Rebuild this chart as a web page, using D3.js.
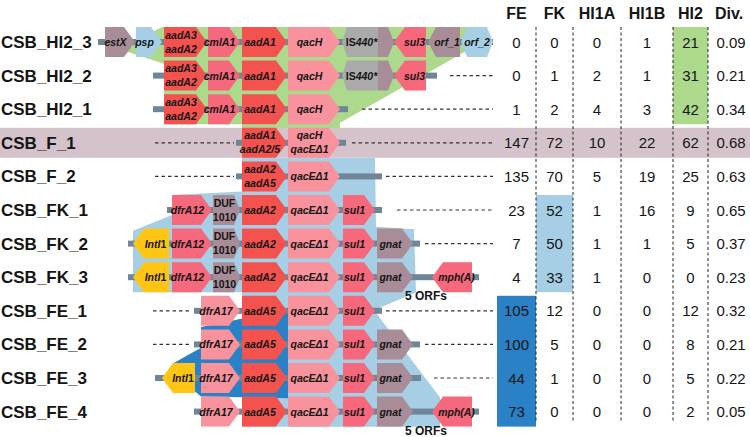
<!DOCTYPE html>
<html>
<head>
<meta charset="utf-8">
<script src="https://cdn.jsdelivr.net/npm/d3@7"></script>
<style>
  body { margin: 0; background: #fff; }
  text { font-family: "Liberation Sans", Arial, Helvetica, sans-serif; fill: #151515; }
</style>
</head>
<body>
<script>
// cassette structures (CSB) and counts per source
const rowNames = ["CSB_HI2_3", "CSB_HI2_2", "CSB_HI2_1", "CSB_F_1", "CSB_F_2", "CSB_FK_1",
    "CSB_FK_2", "CSB_FK_3", "CSB_FE_1", "CSB_FE_2", "CSB_FE_3", "CSB_FE_4"];

const colNames = ["FE", "FK", "HI1A", "HI1B", "HI2", "Div."];
const countFE = [0, 0, 1, 147, 135, 23, 7, 4, 105, 100, 44, 73];
const countFK = [0, 1, 2, 72, 70, 52, 50, 33, 12, 5, 1, 0];
const countHI1A = [0, 2, 4, 10, 5, 1, 1, 1, 0, 0, 0, 0];
const countHI1B = [1, 1, 3, 22, 19, 16, 1, 0, 0, 0, 0, 0];
const countHI2 = [21, 31, 42, 62, 25, 9, 5, 0, 12, 8, 5, 2];
const diversity = ["0.09", "0.21", "0.34", "0.68", "0.63", "0.65", "0.37", "0.23", "0.32", "0.21", "0.22", "0.05"];

// gene content of each row (left to right)
const rowGenes = [
    ["estX", "psp", "aadA3_2", "cmlA1", "aadA1", "qacH", "IS440", "ISpart", "sul3", "orf_1", "orf_2"],
    ["aadA3_2", "cmlA1", "aadA1", "qacH", "IS440", "ISpart", "sul3"],
    ["aadA3_2", "cmlA1", "aadA1", "qacH"],
    ["aadA1_25", "qacH_E"],
    ["aadA2_5", "qacE"],
    ["dfrA12", "DUF1010", "aadA2", "qacE", "sul1"],
    ["intI1_K", "dfrA12", "DUF1010", "aadA2", "qacE", "sul1", "gnat"],
    ["intI1_K", "dfrA12", "DUF1010", "aadA2", "qacE", "sul1", "gnat", "mphA"],
    ["dfrA17", "aadA5", "qacE", "sul1"],
    ["dfrA17", "aadA5", "qacE", "sul1", "gnat"],
    ["intI1_E", "dfrA17", "aadA5", "qacE", "sul1", "gnat"],
    ["dfrA17", "aadA5", "qacE", "sul1", "gnat", "mphA"]
];

// gene catalogue: label lines (segments [text, italic]), alignment extent, strand, family
const genes = {
    estX: {lines: [[["estX", 1]]], from: 105, to: 135, strand: 1, fam: "mauve"},
    psp: {lines: [[["psp", 1]]], from: 136, to: 162, strand: 1, fam: "sky"},
    aadA3_2: {lines: [[["aadA3", 1]], [["aadA2", 1]]], from: 164, to: 207, strand: 1, fam: "red"},
    cmlA1: {lines: [[["cmlA1", 1]]], from: 208, to: 240, strand: 1, fam: "rose"},
    aadA1: {lines: [[["aadA1", 1]]], from: 242, to: 287, strand: 1, fam: "red"},
    qacH: {lines: [[["qacH", 1]]], from: 288, to: 340, strand: 1, fam: "pink"},
    IS440: {lines: [[["IS", 0], ["440*", 1]]], from: 342, to: 378, strand: -1, fam: "grey", tip: 5},
    ISpart: {lines: [], from: 378, to: 394, strand: 1, fam: "mauve", tip: 6},
    sul3: {lines: [[["sul3", 1]]], from: 394, to: 426, strand: -1, fam: "rose"},
    orf_1: {lines: [[["orf_1", 1]]], from: 428, to: 460, strand: -1, fam: "mauve", tip: 8},
    orf_2: {lines: [[["orf_2", 1]]], from: 461, to: 493, strand: 2, fam: "sky", tip: 6},
    aadA1_25: {lines: [[["aadA1", 1]], [["aadA2/5", 1]]], from: 242, to: 287, strand: 1, fam: "red"},
    qacH_E: {lines: [[["qacH", 1]], [["qacEΔ1", 1]]], from: 288, to: 340, strand: 1, fam: "pink"},
    aadA2_5: {lines: [[["aadA2", 1]], [["aadA5", 1]]], from: 242, to: 287, strand: 1, fam: "red"},
    qacE: {lines: [[["qacEΔ1", 1]]], from: 288, to: 340, strand: 1, fam: "pink"},
    sul1: {lines: [[["sul1", 1]]], from: 343, to: 375, strand: 1, fam: "rose"},
    dfrA12: {lines: [[["dfrA12", 1]]], from: 172, to: 212, strand: 1, fam: "rose"},
    DUF1010: {lines: [[["DUF", 0]], [["1010", 0]]], from: 213, to: 240, strand: 1, fam: "mauve", tip: 6},
    aadA2: {lines: [[["aadA2", 1]]], from: 242, to: 287, strand: 1, fam: "red"},
    gnat: {lines: [[["gnat", 1]]], from: 377, to: 413, strand: 1, fam: "mauve"},
    mphA: {lines: [[["mph(A)", 1]]], from: 432, to: 472, strand: -1, fam: "rose"},
    dfrA17: {lines: [[["dfrA17", 1]]], from: 201, to: 240, strand: 1, fam: "pink"},
    aadA5: {lines: [[["aadA5", 1]]], from: 242, to: 287, strand: 1, fam: "red"},
    intI1_K: {lines: [[["IntI", 1], ["1", 0]]], from: 133, to: 169, strand: -1, fam: "yellow"},
    intI1_E: {lines: [[["IntI", 1], ["1", 0]]], from: 162, to: 195, strand: -1, fam: "yellow"}
};

// backbone extent, dotted continuation left / right
const backbone = [[98, 493], [153, 437], [153, 348], [236, 346], [236, 382], [167, 382],
    [128, 420], [128, 479], [194, 382], [194, 420], [155, 421], [194, 479]];
const leftDash = [null, null, null, [155, 234], [155, 234], null, null, null, [153, 190], [153, 190], null, null];
const rightDash = [null, [450, 493], [362, 493], [352, 493], [386, 493], [397, 493], [425, 493], null,
    [386, 493], [425, 493], [434, 493], null];
const orfNotes = [{row: 7, text: "5 ORFs"}, {row: 11, text: "5 ORFs"}];

// shared regions, [alignment x, row index]
const greenRegion = [[128, 0.30], [164, 0.65], [164, 2.45], [242, 2.45], [242, 3], [340, 3], [340, 2.4],
    [468, 0.24], [468, -0.45], [162, -0.45], [128, 0.09]];
const skyRegion = [[242, 3.45], [375, 3.45], [376, 5.5], [414, 5.57], [416, 7.45], [374, 7.98],
    [440, 10.58], [440, 11.45], [242, 11.45], [242, 7.45], [133, 7.45], [133, 5.62], [172, 5.15],
    [172, 4.55], [242, 4.45]];
const blueRegion = [[201, 8.48], [288, 7.95], [288, 10.6], [201, 10.55], [195, 10.4], [172, 9.58], [201, 9.1]];

const highlights = [{col: "FE", rows: [8, 11], fam: "blue"}, {col: "FK", rows: [5, 7], fam: "sky"},
    {col: "HI2", rows: [0, 2], fam: "green"}];

const width = 750, height = 437, half = 15;

const colors = d3.scaleOrdinal()
    .domain(["red", "rose", "pink", "mauve", "grey", "sky", "yellow", "green", "blue", "band"])
    .range(["#f4524f", "#f6687b", "#f8929d", "#a88c97", "#aaaaaa", "#a6cee4", "#fec514", "#acd98c", "#2b81c5", "#d4c3ca"]);

const x = d3.scaleLinear().domain([0, width]).range([0, width]);
const y = d3.scaleLinear().domain([0, rowNames.length - 1]).range([42, 411.6]);

const colLeft = d3.scaleOrdinal().domain(colNames).range([497, 536, 573, 621, 673, 708]);
const colRight = d3.scaleOrdinal().domain(colNames).range([536, 573, 621, 673, 708, 750]);
const colMid = function (c) { return (colLeft(c) + colRight(c)) / 2; };

const svg = d3.select("body").append("svg")
    .attr("width", width)
    .attr("height", height);

const poly = d3.line().x(function (d) { return x(d[0]); }).y(function (d) { return y(d[1]); });

// shared region backgrounds
svg.append("path").attr("d", poly(greenRegion) + "Z").attr("fill", colors("green"));
svg.append("path").attr("d", poly(skyRegion) + "Z").attr("fill", colors("sky"));
svg.append("path").attr("d", poly(blueRegion) + "Z").attr("fill", colors("blue"));

// highlighted F_1 row
svg.append("rect")
    .attr("x", 0).attr("width", width)
    .attr("y", y(3) - half).attr("height", half * 2)
    .attr("fill", colors("band"));

// table cell highlights
svg.selectAll("rect.hl")
    .data(highlights)
    .enter().append("rect")
    .attr("class", "hl")
    .attr("x", function (d) { return colLeft(d.col); })
    .attr("width", function (d) { return colRight(d.col) - colLeft(d.col); })
    .attr("y", function (d) { return y(d.rows[0]) - half; })
    .attr("height", function (d) { return y(d.rows[1]) - y(d.rows[0]) + half * 2; })
    .attr("fill", function (d) { return colors(d.fam); });

// table column separators
svg.selectAll("line.sep")
    .data(colNames.slice(1))
    .enter().append("line")
    .attr("class", "sep")
    .attr("x1", function (d) { return colLeft(d); })
    .attr("x2", function (d) { return colLeft(d); })
    .attr("y1", y(0) - half).attr("y2", y(11) + 10)
    .attr("stroke", "#222").attr("stroke-width", 1)
    .attr("stroke-dasharray", "3,2.5");

// dotted continuations
const dashes = [];
leftDash.forEach(function (d, i) { if (d) dashes.push({row: i, ext: d}); });
rightDash.forEach(function (d, i) { if (d) dashes.push({row: i, ext: d}); });
svg.selectAll("line.dash")
    .data(dashes)
    .enter().append("line")
    .attr("class", "dash")
    .attr("x1", function (d) { return x(d.ext[0]); })
    .attr("x2", function (d) { return x(d.ext[1]); })
    .attr("y1", function (d) { return y(d.row); })
    .attr("y2", function (d) { return y(d.row); })
    .attr("stroke", "#333").attr("stroke-width", 1.2)
    .attr("stroke-dasharray", "3.5,3");

// backbones
svg.selectAll("rect.bb")
    .data(backbone)
    .enter().append("rect")
    .attr("class", "bb")
    .attr("x", function (d) { return x(d[0]); })
    .attr("width", function (d) { return x(d[1]) - x(d[0]); })
    .attr("y", function (d, i) { return y(i) - 3; })
    .attr("height", 6)
    .attr("fill", "#6f8598");

// genes
function arrow(g, yc) {
    const x0 = x(g.from), x1 = x(g.to), t = g.tip || 11;
    let p;
    if (g.strand === 1) {
        p = [[x0, yc - half], [x1 - t, yc - half], [x1, yc], [x1 - t, yc + half], [x0, yc + half]];
    } else if (g.strand === -1) {
        p = [[x0 + t, yc - half], [x1, yc - half], [x1, yc + half], [x0 + t, yc + half], [x0, yc]];
    } else {
        p = [[x0 + t, yc - half], [x1 - t, yc - half], [x1, yc], [x1 - t, yc + half], [x0 + t, yc + half], [x0, yc]];
    }
    return p.map(function (q) { return q.join(","); }).join(" ");
}

const placed = [];
rowGenes.forEach(function (list, i) {
    list.forEach(function (k) { placed.push({row: i, g: genes[k]}); });
});

svg.selectAll("polygon.gene")
    .data(placed)
    .enter().append("polygon")
    .attr("class", "gene")
    .attr("points", function (d) { return arrow(d.g, y(d.row)); })
    .attr("fill", function (d) { return colors(d.g.fam); });

placed.forEach(function (d) {
    const g = d.g, t = g.tip || 11;
    const cx = g.strand === 1 ? (x(g.from) + x(g.to) - t) / 2 + 1
        : g.strand === -1 ? (x(g.from) + t + x(g.to)) / 2 - 1
        : (x(g.from) + x(g.to)) / 2;
    const n = g.lines.length;
    g.lines.forEach(function (segs, j) {
        const txt = svg.append("text")
            .attr("x", cx)
            .attr("y", y(d.row) + (n === 1 ? 4 : (j === 0 ? -3.5 : 10.5)))
            .attr("text-anchor", "middle")
            .style("font-size", "10.5px")
            .style("font-weight", "bold");
        segs.forEach(function (s) {
            txt.append("tspan").text(s[0]).style("font-style", s[1] ? "italic" : "normal");
        });
    });
});

svg.selectAll("text.orf")
    .data(orfNotes)
    .enter().append("text")
    .attr("class", "orf")
    .attr("x", x(426))
    .attr("y", function (d) { return y(d.row) + 23; })
    .attr("text-anchor", "middle")
    .style("font-size", "12px")
    .style("font-weight", "bold")
    .text(function (d) { return d.text; });

// row labels
svg.selectAll("text.rowlab")
    .data(rowNames)
    .enter().append("text")
    .attr("class", "rowlab")
    .attr("x", 1)
    .attr("y", function (d, i) { return y(i) + 6; })
    .style("font-size", "17px")
    .style("font-weight", "bold")
    .text(function (d) { return d; });

// table header and values
svg.selectAll("text.head")
    .data(colNames)
    .enter().append("text")
    .attr("class", "head")
    .attr("x", function (d) { return colMid(d); })
    .attr("y", 19)
    .attr("text-anchor", "middle")
    .style("font-size", "16px")
    .style("font-weight", "bold")
    .text(function (d) { return d; });

const columns = [countFE, countFK, countHI1A, countHI1B, countHI2, diversity];
const cells = [];
columns.forEach(function (vals, c) {
    vals.forEach(function (v, r) { cells.push({col: colNames[c], row: r, v: v}); });
});
svg.selectAll("text.cell")
    .data(cells)
    .enter().append("text")
    .attr("class", "cell")
    .attr("x", function (d) { return colMid(d.col) + (d.col === "Div." ? 2 : 0); })
    .attr("y", function (d) { return y(d.row) + 5.5; })
    .attr("text-anchor", "middle")
    .style("font-size", "15px")
    .text(function (d) { return d.v; });
</script>
</body>
</html>
